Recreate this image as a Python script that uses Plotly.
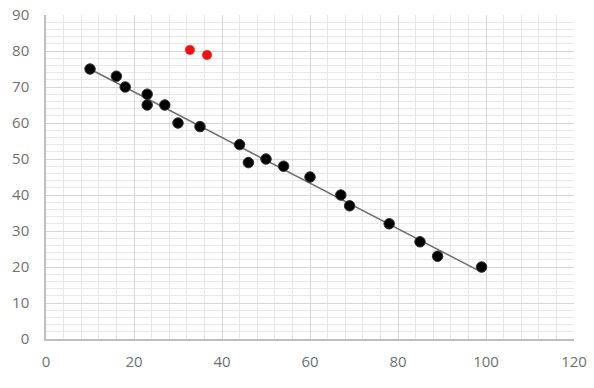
import numpy as np
import plotly.graph_objects as go

# Data
x_black = [10, 16, 18, 23, 23, 27, 30, 35, 44, 46, 50, 54, 60, 67, 69, 78, 85, 89, 99]
y_black = [75, 73, 70, 68, 65, 65, 60, 59, 54, 49, 50, 48, 45, 40, 37, 32, 27, 23, 20]
x_red = [32.7, 36.6]
y_red = [80.3, 78.9]

x_ticks = [0, 20, 40, 60, 80, 100, 120]
y_ticks = [0, 10, 20, 30, 40, 50, 60, 70, 80, 90]

slope, intercept = np.polyfit(x_black, y_black, 1)
x_fit = [min(x_black) - 0.8, max(x_black)]
y_fit = [slope * v + intercept for v in x_fit]

fig = go.Figure()
fig.add_trace(go.Scatter(x=x_fit, y=y_fit, mode="lines",
                         line=dict(color="#6e6e6e", width=1.5),
                         hoverinfo="skip", showlegend=False))
fig.add_trace(go.Scatter(x=x_black, y=y_black, mode="markers",
                         marker=dict(color="#000000", size=10.5,
                                     line=dict(color="#333333", width=1)),
                         showlegend=False))
fig.add_trace(go.Scatter(x=x_red, y=y_red, mode="markers",
                         marker=dict(color="#ee1111", size=9.5,
                                     line=dict(color="#e83030", width=0.5)),
                         showlegend=False))

# faint white patch seen in the reference (grid partially hidden)
fig.add_shape(type="rect", xref="x", yref="y", x0=7.7, x1=15.7, y0=77.5, y1=85,
              fillcolor="rgba(255,255,255,0.6)", line=dict(width=0), layer="below")

font = dict(family="Open Sans, Liberation Sans, sans-serif", size=15, color="#707070")

fig.update_layout(
    width=594, height=388,
    margin=dict(l=46, r=20, t=15, b=49, autoexpand=False),
    paper_bgcolor="white", plot_bgcolor="white",
    font=font,
    xaxis=dict(range=[0, 120], tickvals=x_ticks, ticktext=[str(v) for v in x_ticks],
               automargin=False,
               showgrid=True, gridcolor="#d6d6d6", gridwidth=1,
               minor=dict(dtick=4, showgrid=True, gridcolor="#e8e8e8", gridwidth=1),
               showline=True, linecolor="#bfbfbf", linewidth=1.5,
               zeroline=False, ticks="", ticklen=0, tickfont=font,
               ticklabelstandoff=8),
    yaxis=dict(range=[0, 90], tickvals=y_ticks, ticktext=[str(v) for v in y_ticks],
               automargin=False,
               showgrid=True, gridcolor="#d6d6d6", gridwidth=1,
               minor=dict(dtick=2, showgrid=True, gridcolor="#e8e8e8", gridwidth=1),
               showline=True, linecolor="#bfbfbf", linewidth=1.5,
               zeroline=False, ticks="", ticklen=0, tickfont=font,
               ticklabelstandoff=12),
)

fig.write_html("out.html")
